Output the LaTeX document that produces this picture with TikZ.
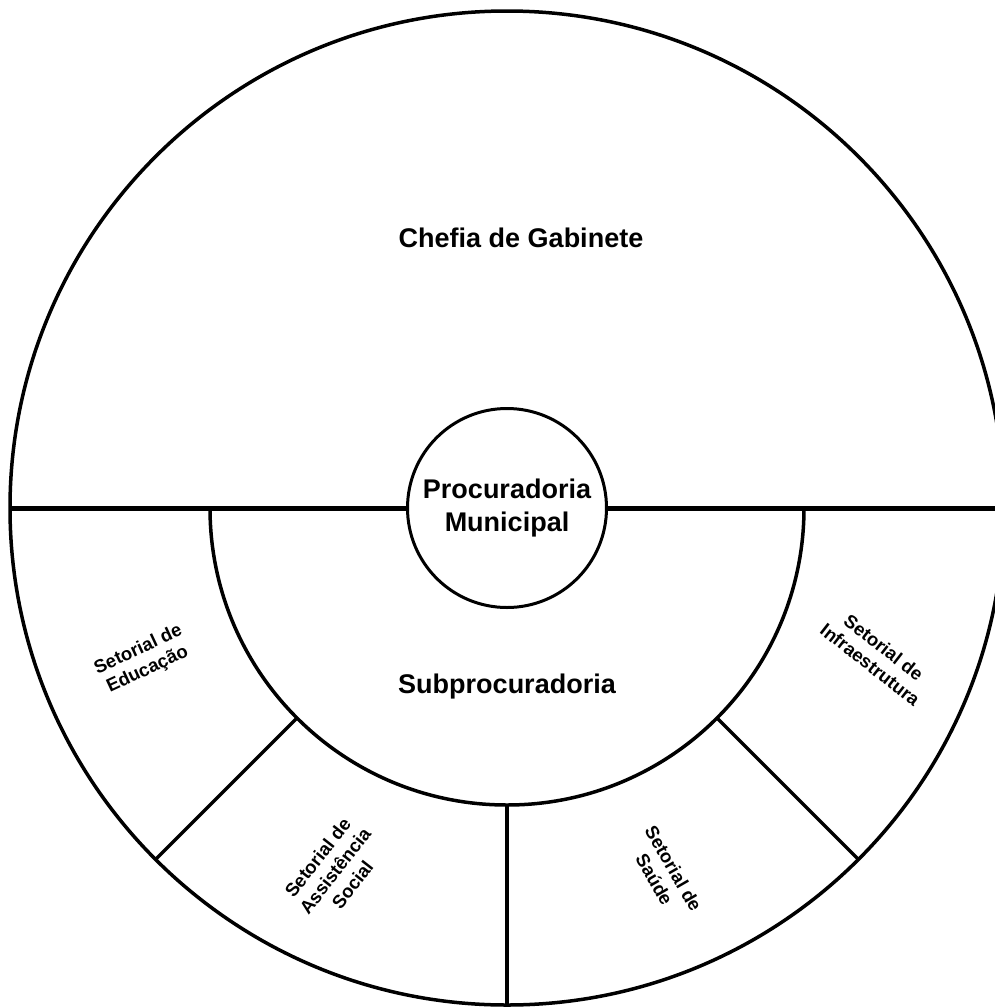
\documentclass[tikz,border=0pt]{standalone}
\usepackage{fontspec}
\setmainfont{Liberation Sans}
\begin{document}
\begin{tikzpicture}[x=1pt,y=-1pt,
  ring/.style={circle,draw,line width=3.5pt,inner sep=0pt,outer sep=0pt},
  big/.style={font=\bfseries\fontsize{27}{33}\selectfont,align=center,inner sep=0pt},
  small/.style={font=\bfseries\fontsize{18.5}{22}\selectfont,align=center,inner sep=0pt},
  divider/.style={line width=3.5pt}]
\useasboundingbox (0,0) rectangle (995,1007);
\node[ring,minimum size=994pt] (outer) at (507,508) {};
\node[circle,minimum size=594pt,inner sep=0pt,outer sep=0pt] (subc) at (507,508) {};
\draw[divider] (subc.west) arc[start angle=180,end angle=360,radius=297pt];
\node[ring,minimum size=199pt,line width=3pt,big] (pm) at (507,508) {Procuradoria\\Municipal};
\draw[line width=5pt] (outer.west) -- (pm.west);
\draw[line width=5pt] (pm.east) -- (outer.east);
\draw[divider] (subc.225) -- (outer.225);
\draw[divider] (subc.315) -- (outer.315);
\draw[divider,line width=4.5pt] (subc.south) -- (outer.south);
\node[big,anchor=base] (chefia) at (521,247) {Chefia de Gabinete};
\node[big,anchor=base] (sub) at (507,693) {Subprocuradoria};
\node[small,rotate=25] (edu) at (143,660) {Setorial de\\Educação};
\node[small,rotate=52] (assist) at (335,871) {Setorial de\\Assistência\\Social};
\node[small,rotate=-60] (saude) at (664,874) {Setorial de\\Saúde};
\node[small,rotate=-38] (infra) at (877,656) {Setorial de\\Infraestrutura};
\end{tikzpicture}
\end{document}
